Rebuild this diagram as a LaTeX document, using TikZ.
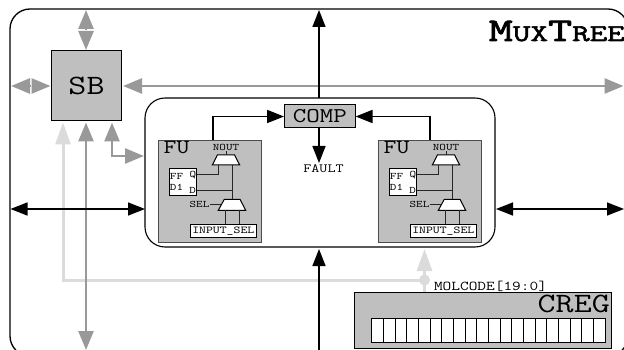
\documentclass[tikz,border=0pt]{standalone}
\usepackage{fontspec}
\setmonofont[FakeStretch=1.25]{Latin Modern Mono}
\newfontfamily\titlefont[FakeStretch=1.42,FakeBold=2.5]{Latin Modern Mono}
\usetikzlibrary{arrows.meta,positioning}

\begin{document}
\begin{tikzpicture}[
  x=1pt, y=-1pt,
  block/.style={draw, line width=1pt, fill=black!25, inner sep=0pt},
  whitebox/.style={draw, line width=0.9pt, fill=white, inner sep=0pt},
  mux/.style={draw, line width=1pt, fill=white},
  txtbig/.style={font=\ttfamily\fontsize{28}{28}\selectfont, inner sep=0pt},
  txtmid/.style={font=\ttfamily\fontsize{21}{21}\selectfont, inner sep=0pt},
  txtsig/.style={font=\ttfamily\fontsize{13.5}{13.5}\selectfont, inner sep=0pt},
  txtsmall/.style={font=\ttfamily\fontsize{10}{10}\selectfont, inner sep=0pt},
  wire/.style={line width=1pt, black!85},
  busblack/.style={line width=1.6pt, black},
  busgray/.style={line width=2.5pt, black!40},
  buslight/.style={line width=3pt, black!14}
]
\tikzset{
  >={Triangle[length=17pt,width=13pt]},
  tipg/.tip={Triangle[length=19pt,width=15pt]},
  tipl/.tip={Triangle[length=22pt,width=15pt]}
}
\useasboundingbox (0,0) rectangle (624,350);
\clip (0,0) rectangle (624,350);

% Outer cell
\draw[line width=1.3pt, rounded corners=20pt] (10,9) rectangle (628,356);

% Main blocks
\node[block, minimum width=70pt, minimum height=70pt, txtbig] (sb) at (86.5,86) {SB};
\node[draw, line width=1.1pt, rounded corners=20pt, minimum width=350pt, minimum height=149pt]
  (inner) at (320,172.5) {};
\node[block, minimum width=256.5pt, minimum height=56pt] (creg) at (483,320.3) {};
\node[anchor=base east, txtbig] (cregname) at (610,312) {CREG};

% Free ends on the cell border
\coordinate (top1) at (86,10);
\coordinate (mid1) at (86,30);
\coordinate (left1) at (11,86);
\coordinate (left2) at (31,86);
\coordinate (right1) at (623.5,86);
\coordinate (bot1) at (86,350);
\coordinate (left3) at (10.5,209);
\coordinate (right3) at (624,209);
\coordinate (top2) at (319,10);
\coordinate (bot2) at (319,350);

% Configuration bus
\coordinate (dot) at (424.5,280);
\draw[buslight, {tipl}-] (63,122.5) |- (dot);
\draw[buslight, -{tipl}] (creg.north -| dot) -- (424.5,249);
\fill[black!14] (dot) circle (5.5pt);

% Routing buses
\draw[busgray, -{tipg}] (mid1) -- (top1);
\draw[busgray, -{tipg}] (86,31) -- (86,50);
\draw[busgray, -{tipg}] (left2) -- (left1);
\draw[busgray, -{tipg}] (32,86) -- (50.5,86);
\draw[busgray, {tipg}-{tipg}] (123,86) -- (right1);
\draw[busgray, {tipg}-{tipg}] (86,122.5) -- (bot1);
\draw[busgray, {tipg}-{tipg}] (112,122.5) |- (144,156);

% Data buses
\draw[busblack, <->] (left3) -- (145,209);
\draw[busblack, <->] (496,209) -- (right3);

% Register cells
\foreach \i in {0,...,19}
  \node[whitebox, minimum width=11.67pt, minimum height=23.4pt, anchor=north west]
    (cell\i) at (371.3+11.67*\i,318.3) {};
\node[anchor=south, txtsig] (molcode) at (490.5,292) {MOLCODE[19:0]};

% Comparator
\node[block, minimum width=70.5pt, minimum height=23pt, txtmid] (comp) at (319.8,116.5) {COMP};
\node[font=\ttfamily\fontsize{12.5}{12.5}\selectfont, inner sep=0pt] (fault) at (323.5,169) {FAULT};
\draw[busblack, ->] (319,98) -- (top2);
\draw[busblack, ->] (319,128) -- (319,163);
\draw[busblack, ->] (bot2) -- (319,249);

% Functional units
\foreach \name/\dx in {fa/0, fb/220}{
  \begin{scope}[shift={(\dx,0)}]
    \node[block, draw=black!70, minimum width=103pt, minimum height=102.5pt] (\name-box) at (210,191.3) {};
    \node[anchor=north west, font=\ttfamily\fontsize{20}{20}\selectfont, inner sep=0pt] (\name-lab) at (163.5,141.5) {FU};
    \node[txtsmall] (\name-nout) at (226,147) {NOUT};
    \draw[mux] (217.5,154.8) -- (234.5,154.8) -- (239.7,165) -- (212.3,165) -- cycle;
    \draw[mux] (224.3,199.3) -- (240,199.3) -- (245.7,210.3) -- (218.3,210.3) -- cycle;
    \node[whitebox, minimum width=27.4pt, minimum height=27.4pt] (\name-ff) at (183,182) {};
    \node[txtsmall] (\name-ffa) at (176.5,176.8) {FF};
    \node[txtsmall] (\name-ffb) at (176.5,187) {D1};
    \node[txtsmall] (\name-q) at (193,175) {Q};
    \node[txtsmall] (\name-d) at (192.7,190.3) {D};
    \node[txtsmall] (\name-sel) at (199.5,204) {SEL};
    \node[whitebox, minimum width=66.7pt, minimum height=13.4pt, font=\ttfamily\fontsize{10.5}{10.5}\selectfont] (\name-in) at (223.3,231) {INPUT\_SEL};
    \draw[wire] (226,151) -- (226,154.8);
    \draw[wire] (196.7,174.3) -| (218.4,165);
    \draw[wire] (232.3,165) -- (232.3,199.3);
    \draw[wire] (196.7,190) -- (232.3,190);
    \draw[wire] (\name-sel.east) -- (221,204);
    \draw[wire] (225.7,210.3) -- (225.7,224.3);
    \draw[wire] (239.3,210.3) -- (239.3,224.3);
  \end{scope}
}

% Outputs to the comparator
\draw[busblack, ->] (212.7,140) |- (comp.west);
\draw[busblack, ->] (429.7,140) |- (comp.east);

% Title
\node[anchor=base east, inner sep=0pt] (title) at (625,41)
  {\titlefont\fontsize{33}{33}\selectfont M\fontsize{24}{24}\selectfont UX\fontsize{33}{33}\selectfont T\fontsize{24}{24}\selectfont REE};

\end{tikzpicture}
\end{document}
